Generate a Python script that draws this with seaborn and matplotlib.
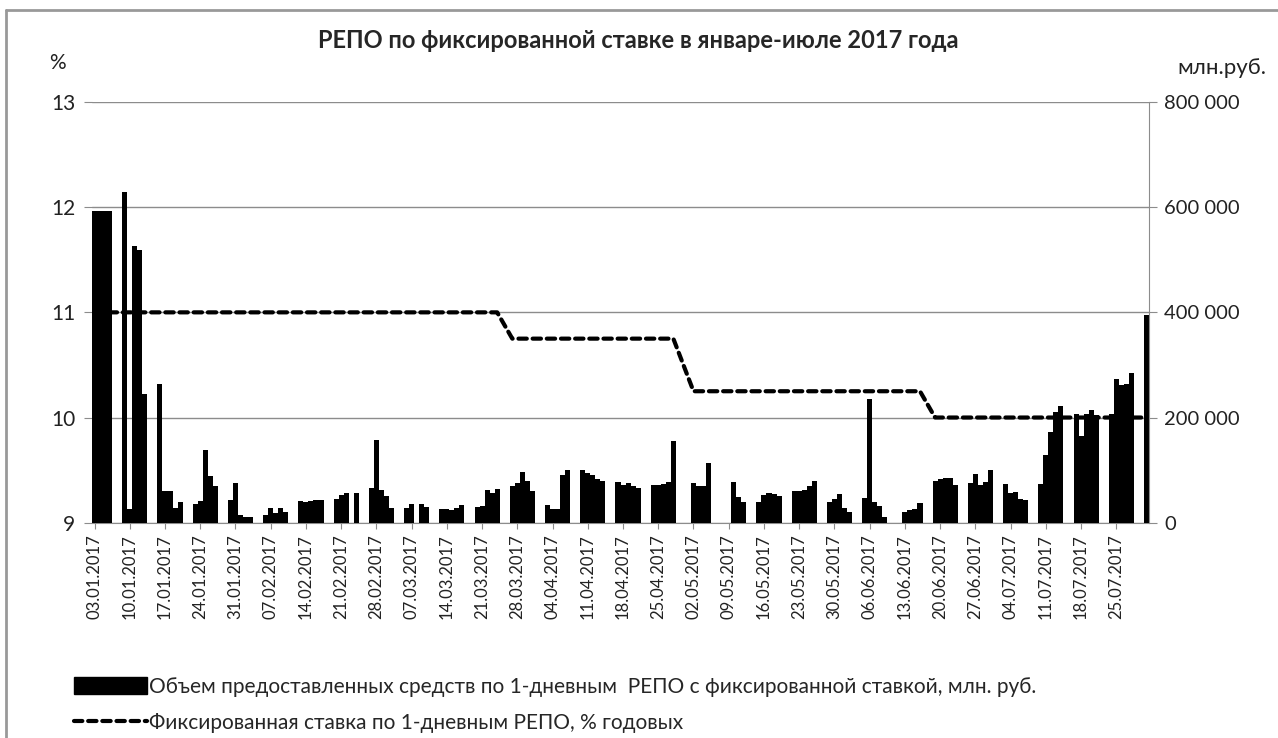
import matplotlib
matplotlib.use("Agg")
import matplotlib.pyplot as plt
import seaborn as sns
import pandas as pd
from matplotlib.lines import Line2D
from matplotlib.patches import Patch
from matplotlib.ticker import FuncFormatter

# calendar: every day of the period is a slot on the axis, bars only on working days
period_start = "2017-01-03"
period_end = "2017-07-31"
days_off = ["2017-02-23", "2017-03-08", "2017-05-01", "2017-05-08", "2017-05-09", "2017-06-12"]

# volume of 1-day fixed rate repo, mln rub (one value per working day)
volume = [
    592000, 592000, 592000, 592000,                 # 03.01-06.01
    629000, 27000, 526000, 519000, 244000,          # 09.01-13.01
    263000, 60000, 60000, 28500, 38600,             # 16.01-20.01
    36000, 41000, 137500, 89000, 70000,             # 23.01-27.01
    43700, 74700, 14600, 11400, 11400,              # 30.01-03.02
    14600, 28500, 17700, 27200, 21000,              # 06.02-10.02
    41000, 40000, 41000, 42500, 43700,              # 13.02-17.02
    45000, 52600, 57000, 57000,                     # 20.02-24.02
    66500, 157000, 62000, 51300, 28500,             # 27.02-03.03
    28500, 36000, 36000, 29800,                     # 06.03-10.03
    26000, 27000, 24000, 28500, 33600,              # 13.03-17.03
    30000, 31000, 63000, 56000, 64000,              # 20.03-24.03
    70000, 74700, 97000, 79000, 60000,              # 27.03-31.03
    33600, 27000, 27000, 90600, 100000,             # 03.04-07.04
    100000, 95000, 90600, 84000, 79000,             # 10.04-14.04
    76600, 72000, 74700, 70000, 66500,              # 17.04-21.04
    71600, 71600, 73000, 76600, 155000,             # 24.04-28.04
    74700, 70000, 70000, 112700,                    # 02.05-05.05
    76600, 49400, 38600,                            # 10.05-12.05
    38600, 52600, 55700, 53800, 51300,              # 15.05-19.05
    60000, 60000, 62000, 70000, 80000,              # 22.05-26.05
    38600, 45000, 53800, 27200, 21000,              # 29.05-02.06
    46200, 236000, 40000, 32300, 11400,             # 05.06-09.06
    21000, 24000, 26000, 36700,                     # 13.06-16.06
    80000, 84000, 85000, 85000, 72000,              # 19.06-23.06
    75000, 92000, 72000, 78000, 100000,             # 26.06-30.06
    72800, 55700, 57600, 44300, 43000,              # 03.07-07.07
    72800, 128600, 173000, 209600, 221600,          # 10.07-14.07
    206000, 165000, 206000, 214000, 205000,         # 17.07-21.07
    206000, 274000, 261000, 263000, 284000,         # 24.07-28.07
    394600,                                         # 31.07
]

# fixed rate, % p.a., from the given date on
rate_dates = ["2017-01-03", "2017-03-27", "2017-05-02", "2017-06-19"]
rate_values = [11.0, 10.75, 10.25, 10.0]

all_days = pd.date_range(period_start, period_end, freq="D")
work_days = pd.bdate_range(period_start, period_end).drop(pd.to_datetime(days_off))
all_labels = [d.strftime("%d.%m.%Y") for d in all_days]

df = pd.DataFrame({"date": work_days, "volume": volume})
df["label"] = df["date"].dt.strftime("%d.%m.%Y")
df["pos"] = [all_labels.index(s) for s in df["label"]]
steps = pd.Series(rate_values, index=pd.to_datetime(rate_dates))
df["rate"] = [steps[steps.index <= d].iloc[-1] for d in df["date"]]

sns.set_style("white")
plt.rcParams["font.family"] = ["Lato", "DejaVu Sans"]

grid_col = "#8c8c8c"
txt_col = "#222222"
dash = (0, (2.0, 1.4))

fig = plt.figure(figsize=(12.78, 7.38), dpi=100)
ax = fig.add_axes([92 / 1278, 1 - 522.7 / 738, (1149 - 92) / 1278, (522.7 - 102) / 738])
ax2 = ax.twinx()

sns.barplot(data=df, x="label", y="volume", order=all_labels, color="black",
            width=1.0, saturation=1, edgecolor="none", ax=ax2)

sns.lineplot(data=df, x="pos", y="rate", ax=ax, color="black", linewidth=3.0,
             linestyle=dash, dash_capstyle="round")

ax.set_ylim(9, 13)
ax.set_yticks([9, 10, 11, 12, 13])
ax2.set_ylim(0, 800000)
ax2.set_yticks(range(0, 800001, 200000))
ax2.yaxis.set_major_formatter(FuncFormatter(lambda v, p: f"{int(v):,}".replace(",", " ")))
ax.set_xlim(-0.5, len(all_labels) - 0.5)
ax.set_xticks(range(0, len(all_labels), 7))
ax.set_xticklabels(all_labels[::7], rotation=90, fontsize=12)

ax.grid(axis="y", color=grid_col, linewidth=1)
ax.set_axisbelow(True)
for a in (ax, ax2):
    for s in a.spines.values():
        s.set_visible(False)
    a.set_xlabel("")
    a.set_ylabel("")
ax2.spines["right"].set_visible(True)
ax2.spines["right"].set_color(grid_col)
ax.spines["bottom"].set_visible(True)
ax.spines["bottom"].set_color(grid_col)

ax.tick_params(axis="y", left=True, length=6, color=grid_col, labelsize=15, pad=6, labelcolor=txt_col)
ax2.tick_params(axis="y", right=True, length=6, color=grid_col, labelsize=14.5, pad=5, labelcolor=txt_col)
ax.tick_params(axis="x", bottom=True, length=4, color=grid_col, pad=4, labelcolor=txt_col)

fig.text(638 / 1278, 1 - 40 / 738, "РЕПО по фиксированной ставке в январе-июле 2017 года",
         ha="center", va="center", fontsize=17, fontweight="bold")
fig.text(66 / 1278, 1 - 63 / 738, "%", ha="right", va="center", fontsize=15, color=txt_col)
fig.text(1266 / 1278, 1 - 68 / 738, "млн.руб.", ha="right", va="center", fontsize=16, color=txt_col)

handles = [Patch(facecolor="black", edgecolor="black"),
           Line2D([], [], color="black", linewidth=3.0, linestyle=dash, dash_capstyle="round")]
labels = ["Объем предоставленных средств по 1-дневным  РЕПО с фиксированной ставкой, млн. руб.",
          "Фиксированная ставка по 1-дневным РЕПО, % годовых"]
fig.legend(handles, labels, loc="upper left", bbox_to_anchor=(74 / 1278, 1 - 677 / 738),
           frameon=False, fontsize=15, handlelength=3.5, handleheight=0.85,
           handletextpad=0.1, labelspacing=0.75, borderpad=0, borderaxespad=0)

# chart area border (left and top edge are visible in the crop)
fig.add_artist(Line2D([6 / 1278, 6 / 1278], [0, 1 - 10 / 738], color="#999999", linewidth=2))
fig.add_artist(Line2D([6 / 1278, 1], [1 - 10 / 738, 1 - 10 / 738], color="#999999", linewidth=2))

fig.savefig("out.png", dpi=100, facecolor="white")
